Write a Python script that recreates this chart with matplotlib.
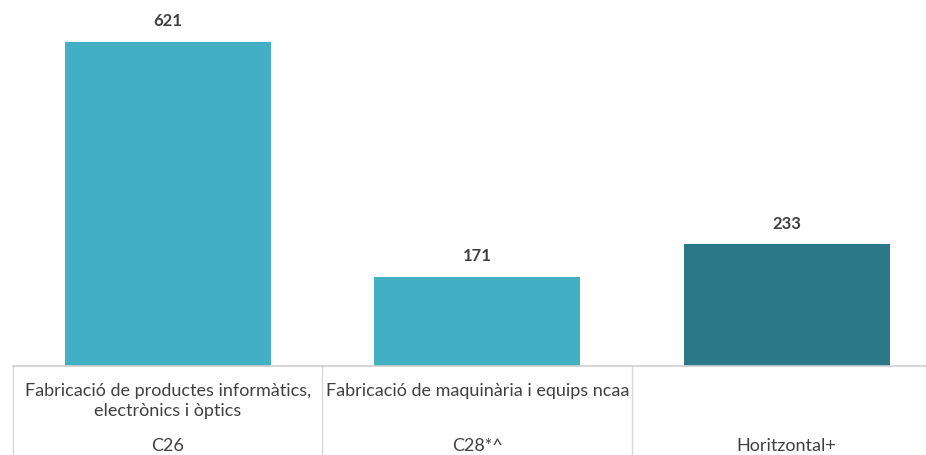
import matplotlib.pyplot as plt
import matplotlib.transforms as mtransforms
import numpy as np

# Dades
descripcions = ['Fabricació de productes informàtics,\nelectrònics i òptics',
                'Fabricació de maquinària i equips ncaa',
                '']
codis = ['C26', 'C28*^', 'Horitzontal+']
valors = [621, 171, 233]
colors = ['#42AFC5', '#42AFC5', '#2A7888']

plt.rcParams['font.family'] = ['Lato', 'DejaVu Sans']

W, H = 926, 455
fig = plt.figure(figsize=(W / 100, H / 100), dpi=100)
base_px = 366
ax = fig.add_axes([13 / W, (H - base_px) / H, 1 - 13 / W, base_px / H])

x = np.arange(len(valors))
ax.bar(x, valors, width=0.665, color=colors, zorder=2)
ax.set_xlim(-0.5, 2.45)
ax.set_ylim(0, 701.5)

for xi, v in zip(x, valors):
    ax.annotate(str(v), (xi, v), xytext=(0, 9), textcoords='offset points',
                ha='center', va='bottom', fontsize=12, fontweight='bold',
                color='#404040')

for s in ax.spines.values():
    s.set_visible(False)
ax.set_xticks([])
ax.set_yticks([])

# Taula de categories sota l'eix
tr = mtransforms.blended_transform_factory(ax.transData, fig.transFigure)
ax.plot([-0.5, 2.45], [1 - base_px / H] * 2, transform=tr, color='#CFCFCF',
        lw=1.2, clip_on=False, zorder=3)
for xs in [-0.5, 0.5, 1.5]:
    ax.plot([xs, xs], [1 - base_px / H, 0], transform=tr, color='#D9D9D9',
            lw=1, clip_on=False)

for xi, d, c in zip(x, descripcions, codis):
    ax.text(xi, 1 - 383 / H, d, transform=tr, ha='center', va='top',
            fontsize=13, color='#404040', linespacing=1.3)
    ax.text(xi, 1 - 446 / H, c, transform=tr, ha='center', va='center',
            fontsize=13, color='#404040')

fig.savefig('out.png', dpi=100)
